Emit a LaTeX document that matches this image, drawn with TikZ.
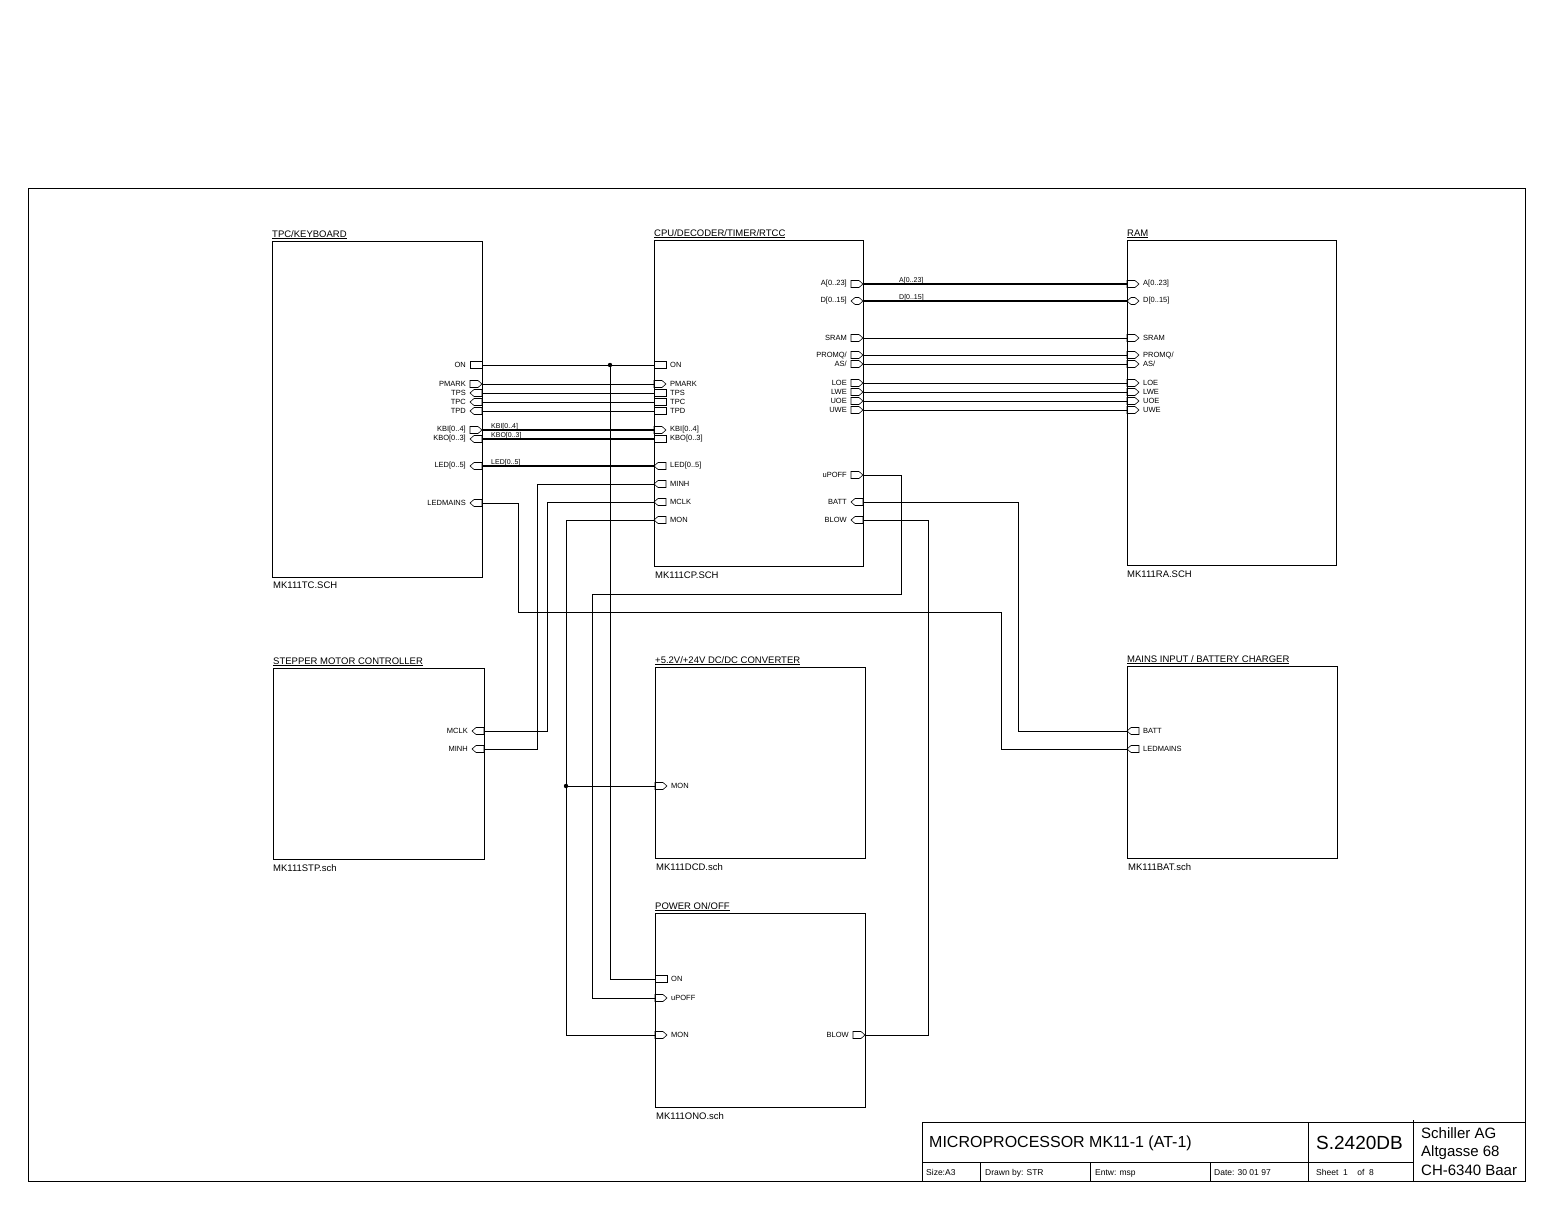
\documentclass[tikz,border=0pt]{standalone}
\usepackage{fontspec}
\setmainfont{Liberation Sans}
\usepackage{tikz}

\tikzset{
  pline/.style={line width=0.6pt},
  wire/.style={line width=0.8pt},
  bus/.style={line width=2.4pt},
  blk/.style={line width=1pt},
  plab/.style={font=\fontsize{7.5}{8}\selectfont, inner sep=0pt},
  blab/.style={font=\fontsize{7}{8}\selectfont, inner sep=0pt, anchor=base west},
  btitle/.style={font=\fontsize{9.5}{11}\selectfont, inner sep=0pt, anchor=base west},
  pbox/.pic={\draw[pline] (0,-3.5) rectangle (12,3.5);},
  pright/.pic={\draw[pline] (0,-3.5) -- (8,-3.5) -- (12,0) -- (8,3.5) -- (0,3.5) -- cycle;},
  pleft/.pic={\draw[pline] (12,-3.5) -- (4,-3.5) -- (0,0) -- (4,3.5) -- (12,3.5) -- cycle;},
  pboth/.pic={\draw[pline] (0,0) -- (4,-3.5) -- (8,-3.5) -- (12,0) -- (8,3.5) -- (4,3.5) -- cycle;}
}

% port on the right edge of a sheet block: x, y, shape, name, label
\newcommand{\portE}[5]{%
  \pic at ({#1-12},#2) {#3};
  \coordinate (#4) at (#1,#2);
  \node[plab,anchor=east] (#4-l) at ({#1-16},#2) {#5};}
% port on the left edge of a sheet block
\newcommand{\portW}[5]{%
  \pic at (#1,#2) {#3};
  \coordinate (#4) at (#1,#2);
  \node[plab,anchor=west] (#4-l) at ({#1+16},#2) {#5};}

\begin{document}
\begin{tikzpicture}[x=1pt,y=-1pt]
      \useasboundingbox (0,0) rectangle (1548,1221);
      \draw[blk] (28,188) rectangle (1525,1181);

      \draw[blk] (272,241) rectangle (482,577);
      \node[btitle] (tpcT) at (272,237) {\underline{TPC/KEYBOARD}};
      \node[btitle] (tpcF) at (273,588) {MK111TC.SCH};
      \portE{482}{365}{pbox}{tpcON}{ON}
      \portE{482}{384}{pright}{tpcPMARK}{PMARK}
      \portE{482}{393}{pleft}{tpcTPS}{TPS}
      \portE{482}{402}{pleft}{tpcTPC}{TPC}
      \portE{482}{411}{pleft}{tpcTPD}{TPD}
      \portE{482}{430}{pright}{tpcKBI}{KBI[0..4]}
      \portE{482}{439}{pleft}{tpcKBO}{KBO[0..3]}
      \portE{482}{466}{pleft}{tpcLED}{LED[0..5]}
      \portE{482}{503}{pleft}{tpcLEDMAINS}{LEDMAINS}

      \draw[blk] (654,240) rectangle (863,566);
      \node[btitle] (cpuT) at (654,236) {\underline{CPU/DECODER/TIMER/RTCC}};
      \node[btitle] (cpuF) at (655,578) {MK111CP.SCH};
      \portW{654}{365}{pbox}{cpuON}{ON}
      \portW{654}{384}{pright}{cpuPMARK}{PMARK}
      \portW{654}{393}{pbox}{cpuTPS}{TPS}
      \portW{654}{402}{pbox}{cpuTPC}{TPC}
      \portW{654}{411}{pbox}{cpuTPD}{TPD}
      \portW{654}{430}{pright}{cpuKBI}{KBI[0..4]}
      \portW{654}{439}{pbox}{cpuKBO}{KBO[0..3]}
      \portW{654}{466}{pleft}{cpuLED}{LED[0..5]}
      \portW{654}{484}{pleft}{cpuMINH}{MINH}
      \portW{654}{502}{pleft}{cpuMCLK}{MCLK}
      \portW{654}{520}{pleft}{cpuMON}{MON}
      \portE{863}{284}{pright}{cpuA}{A[0..23]}
      \portE{863}{301}{pboth}{cpuD}{D[0..15]}
      \portE{863}{338}{pright}{cpuSRAM}{SRAM}
      \portE{863}{355}{pright}{cpuPROMQ}{PROMQ/}
      \portE{863}{364}{pright}{cpuAS}{AS/}
      \portE{863}{383}{pright}{cpuLOE}{LOE}
      \portE{863}{392}{pright}{cpuLWE}{LWE}
      \portE{863}{401}{pright}{cpuUOE}{UOE}
      \portE{863}{410}{pright}{cpuUWE}{UWE}
      \portE{863}{475}{pright}{cpuUPOFF}{uPOFF}
      \portE{863}{502}{pleft}{cpuBATT}{BATT}
      \portE{863}{520}{pleft}{cpuBLOW}{BLOW}

      \draw[blk] (1127,240) rectangle (1336,565);
      \node[btitle] (ramT) at (1127,236) {\underline{RAM}};
      \node[btitle] (ramF) at (1127,577) {MK111RA.SCH};
      \portW{1127}{284}{pright}{ramA}{A[0..23]}
      \portW{1127}{301}{pboth}{ramD}{D[0..15]}
      \portW{1127}{338}{pright}{ramSRAM}{SRAM}
      \portW{1127}{355}{pright}{ramPROMQ}{PROMQ/}
      \portW{1127}{364}{pright}{ramAS}{AS/}
      \portW{1127}{383}{pright}{ramLOE}{LOE}
      \portW{1127}{392}{pright}{ramLWE}{LWE}
      \portW{1127}{401}{pright}{ramUOE}{UOE}
      \portW{1127}{410}{pright}{ramUWE}{UWE}

      \draw[blk] (273,668) rectangle (484,859);
      \node[btitle] (stpT) at (273,664) {\underline{STEPPER MOTOR CONTROLLER}};
      \node[btitle] (stpF) at (273,871) {MK111STP.sch};
      \portE{484}{731}{pleft}{stpMCLK}{MCLK}
      \portE{484}{749}{pleft}{stpMINH}{MINH}

      \draw[blk] (655,667) rectangle (865,858);
      \node[btitle] (dcdT) at (655,663) {\underline{+5.2V/+24V DC/DC CONVERTER}};
      \node[btitle] (dcdF) at (656,870) {MK111DCD.sch};
      \portW{655}{786}{pright}{dcdMON}{MON}

      \draw[blk] (1127,666) rectangle (1337,858);
      \node[btitle] (batT) at (1127,662) {\underline{MAINS INPUT / BATTERY CHARGER}};
      \node[btitle] (batF) at (1128,870) {MK111BAT.sch};
      \portW{1127}{731}{pleft}{batBATT}{BATT}
      \portW{1127}{749}{pleft}{batLEDMAINS}{LEDMAINS}

      \draw[blk] (655,913) rectangle (865,1107);
      \node[btitle] (onoT) at (655,909) {\underline{POWER ON/OFF}};
      \node[btitle] (onoF) at (656,1119) {MK111ONO.sch};
      \portW{655}{979}{pbox}{onoON}{ON}
      \portW{655}{998}{pright}{onoUPOFF}{uPOFF}
      \portW{655}{1035}{pright}{onoMON}{MON}
      \portE{865}{1035}{pright}{onoBLOW}{BLOW}

      \draw[wire] (tpcON) -- (cpuON);
      \draw[wire] (tpcPMARK) -- (cpuPMARK);
      \draw[wire] (tpcTPS) -- (cpuTPS);
      \draw[wire] (tpcTPC) -- (cpuTPC);
      \draw[wire] (tpcTPD) -- (cpuTPD);
      \draw[bus] (tpcKBI) -- (cpuKBI);
      \draw[bus] (tpcKBO) -- (cpuKBO);
      \draw[bus] (tpcLED) -- (cpuLED);
      \node[blab] (kbiL) at (491,428) {KBI[0..4]};
      \node[blab] (kboL) at (491,437) {KBO[0..3]};
      \node[blab] (ledL) at (491,464) {LED[0..5]};

      \draw[bus] (cpuA) -- (ramA);
      \draw[bus] (cpuD) -- (ramD);
      \node[blab] (aL) at (899,282) {A[0..23]};
      \node[blab] (dL) at (899,299) {D[0..15]};
      \draw[wire] (cpuSRAM) -- (ramSRAM);
      \draw[wire] (cpuPROMQ) -- (ramPROMQ);
      \draw[wire] (cpuAS) -- (ramAS);
      \draw[wire] (cpuLOE) -- (ramLOE);
      \draw[wire] (cpuLWE) -- (ramLWE);
      \draw[wire] (cpuUOE) -- (ramUOE);
      \draw[wire] (cpuUWE) -- (ramUWE);

      \coordinate (jON) at (610,365);
      \coordinate (jMON) at (566,786);
      \draw[wire] (jON) |- (onoON);
      \fill (jON) circle (2.2);
      \draw[wire] (cpuMINH) -| (537,749) -- (stpMINH);
      \draw[wire] (cpuMCLK) -| (547,731) -- (stpMCLK);
      \draw[wire] (cpuMON) -| (566,1035) -- (onoMON);
      \draw[wire] (jMON) -- (dcdMON);
      \fill (jMON) circle (2.2);
      \draw[wire] (cpuUPOFF) -| (901,594) -| (592,998) -- (onoUPOFF);
      \draw[wire] (tpcLEDMAINS) -| (518,612) -| (1001,749) -- (batLEDMAINS);
      \draw[wire] (cpuBATT) -| (1018,731) -- (batBATT);
      \draw[wire] (cpuBLOW) -| (928,1035) -- (onoBLOW);

      \draw[blk] (922,1122) rectangle (1525,1181);
      \draw[blk] (922,1162) -- (1413,1162);
      \draw[blk] (1308,1122) -- (1308,1181);
      \draw[blk] (1413,1120) -- (1413,1181);
      \draw[blk] (980,1162) -- (980,1181);
      \draw[blk] (1090,1162) -- (1090,1181);
      \draw[blk] (1210,1162) -- (1210,1181);
      \node[anchor=base west, inner sep=0pt, font=\fontsize{16}{18}\selectfont] (ttl) at (929,1147) {MICROPROCESSOR MK11-1 (AT-1)};
      \node[anchor=base west, inner sep=0pt, font=\fontsize{19}{22}\selectfont] (dwg) at (1316,1149) {S.2420DB};
      \node[anchor=base west, inner sep=0pt, font=\fontsize{15}{18}\selectfont] (co1) at (1421,1138) {Schiller AG};
      \node[anchor=base west, inner sep=0pt, font=\fontsize{15}{18}\selectfont] (co2) at (1421,1156) {Altgasse 68};
      \node[anchor=base west, inner sep=0pt, font=\fontsize{15}{18}\selectfont] (co3) at (1421,1175) {CH-6340 Baar};
      \node[anchor=base west, inner sep=0pt, font=\fontsize{8.5}{10}\selectfont] (sz) at (926,1175) {Size:A3};
      \node[anchor=base west, inner sep=0pt, font=\fontsize{8.5}{10}\selectfont] (drw) at (985,1175) {Drawn by: STR};
      \node[anchor=base west, inner sep=0pt, font=\fontsize{8.5}{10}\selectfont] (ent) at (1095,1175) {Entw: msp};
      \node[anchor=base west, inner sep=0pt, font=\fontsize{8.5}{10}\selectfont] (dat) at (1214,1175) {Date: 30 01 97};
      \node[anchor=base west, inner sep=0pt, font=\fontsize{8.5}{10}\selectfont] (sht) at (1316,1175) {Sheet\ \ 1\ \ \ \ of\ \ 8};
\end{tikzpicture}
\end{document}
